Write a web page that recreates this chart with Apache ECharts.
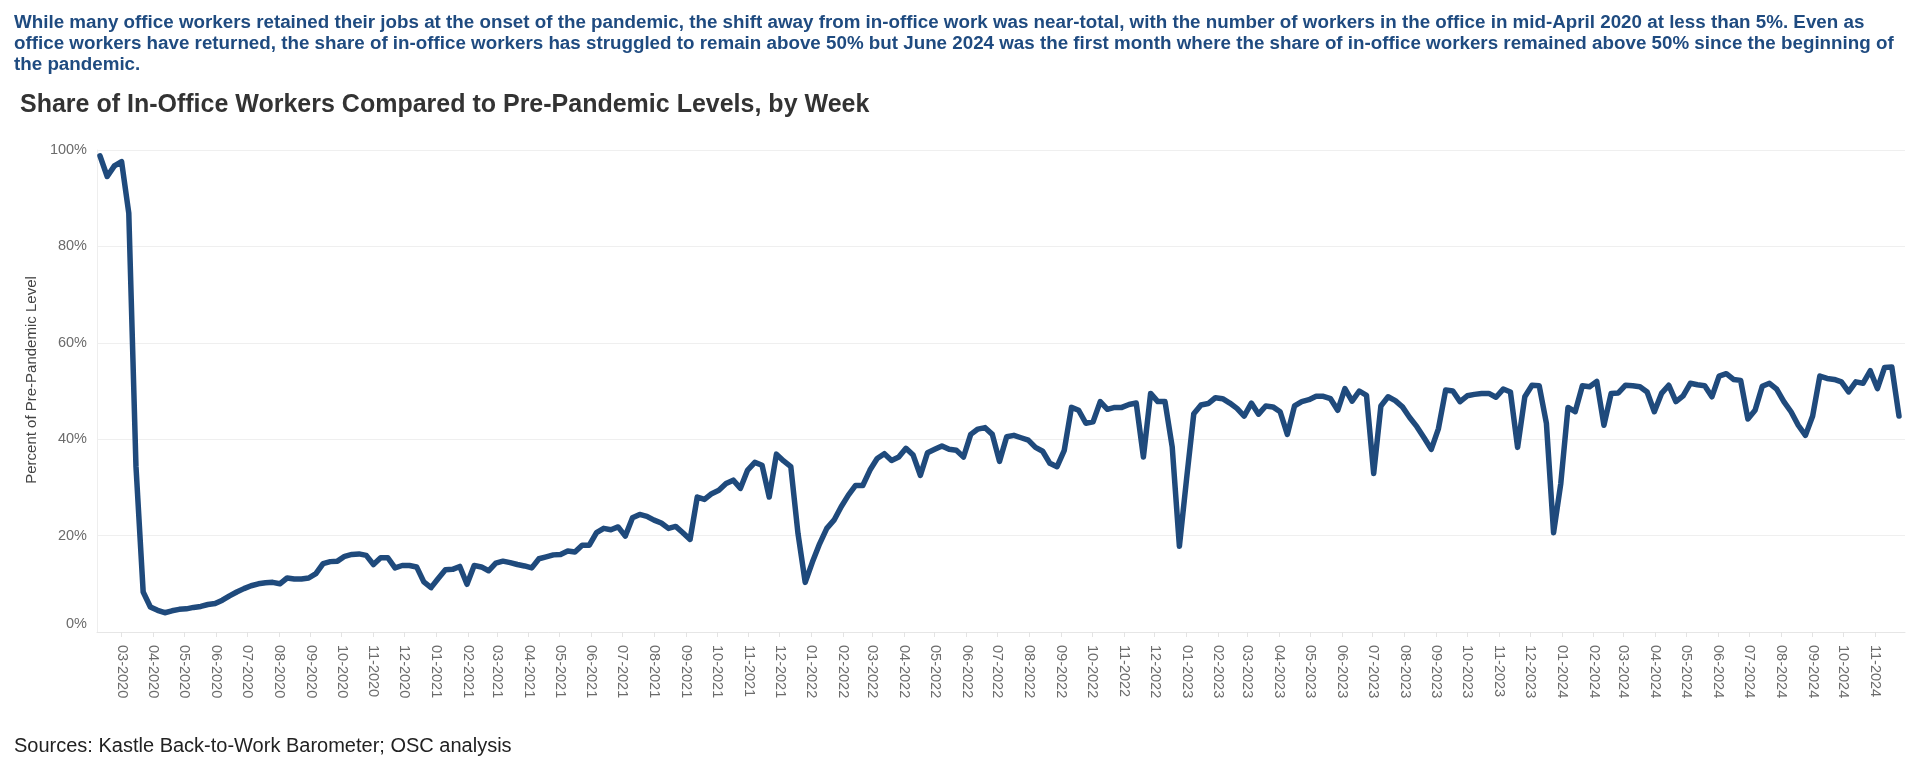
<!DOCTYPE html>
<html>
<head>
<meta charset="utf-8">
<script src="https://cdn.jsdelivr.net/npm/echarts@6/dist/echarts.min.js"></script>
<style>
  html, body { margin: 0; padding: 0; background: #ffffff; }
  #chart { width: 1920px; height: 769px; }
</style>
</head>
<body>
<div id="chart"></div>
<script>
// ---- Data ----
const subtitleLines = [
  'While many office workers retained their jobs at the onset of the pandemic, the shift away from in-office work was near-total, with the number of workers in the office in mid-April 2020 at less than 5%. Even as',
  'office workers have returned, the share of in-office workers has struggled to remain above 50% but June 2024 was the first month where the share of in-office workers remained above 50% since the beginning of',
  'the pandemic.'
];
const chartTitle = 'Share of In-Office Workers Compared to Pre-Pandemic Levels, by Week';
const sourceText = 'Sources: Kastle Back-to-Work Barometer; OSC analysis';
const yAxisTitle = 'Percent of Pre-Pandemic Level';

// weekly observations, first week starting 2020-02-09
const firstWeek = '2020-02-09';
const shareInOffice = [
  98.8, 94.5, 96.7, 97.6, 86.9, 34.3, 8.3, 5.2, 4.5, 4.0,
  4.4, 4.7, 4.8, 5.1, 5.3, 5.7, 5.9, 6.6, 7.5, 8.3,
  9.0, 9.6, 10.0, 10.2, 10.3, 10.0, 11.2, 11.0, 11.0, 11.2,
  12.1, 14.2, 14.6, 14.7, 15.7, 16.1, 16.2, 15.9, 14.0, 15.4,
  15.4, 13.3, 13.8, 13.8, 13.5, 10.4, 9.2, 11.1, 12.9, 13.0,
  13.6, 9.9, 13.8, 13.5, 12.7, 14.3, 14.7, 14.4, 14.0, 13.7,
  13.3, 15.2, 15.6, 16.0, 16.1, 16.8, 16.6, 18.0, 18.0, 20.6,
  21.5, 21.2, 21.8, 19.9, 23.7, 24.4, 24.0, 23.2, 22.6, 21.5,
  21.9, 20.6, 19.2, 28.0, 27.5, 28.7, 29.4, 30.8, 31.5, 29.8,
  33.6, 35.2, 34.6, 28.0, 36.9, 35.5, 34.3, 20.4, 10.3, 14.5,
  18.3, 21.5, 23.2, 26.0, 28.4, 30.4, 30.4, 33.6, 36.0, 37.0,
  35.6, 36.3, 38.1, 36.7, 32.5, 37.2, 37.9, 38.6, 37.9, 37.7,
  36.3, 41.0, 42.1, 42.4, 41.0, 35.4, 40.5, 40.8, 40.3, 39.8,
  38.3, 37.5, 35.0, 34.3, 37.7, 46.6, 46.0, 43.3, 43.6, 47.8,
  46.2, 46.6, 46.6, 47.2, 47.5, 36.3, 49.5, 47.8, 47.8, 38.4,
  17.8, 31.8, 45.3, 47.1, 47.4, 48.6, 48.4, 47.5, 46.4, 44.8,
  47.5, 45.2, 46.9, 46.7, 45.7, 41.0, 46.9, 47.8, 48.2, 48.9,
  48.9, 48.4, 46.0, 50.5, 47.9, 50.0, 49.1, 32.9, 46.9, 48.8,
  48.0, 46.7, 44.5, 42.6, 40.3, 37.9, 42.2, 50.2, 50.0, 47.8,
  49.0, 49.3, 49.5, 49.5, 48.7, 50.4, 49.8, 38.3, 48.8, 51.2,
  51.1, 43.3, 20.6, 30.8, 46.6, 45.7, 51.1, 50.9, 52.0, 42.9,
  49.5, 49.6, 51.2, 51.1, 50.9, 49.8, 45.7, 49.5, 51.2, 47.8,
  49.0, 51.6, 51.3, 51.1, 48.8, 53.1, 53.6, 52.4, 52.2, 44.2,
  46.0, 51.0, 51.6, 50.4, 47.8, 45.7, 42.9, 40.8, 44.8, 53.1,
  52.6, 52.4, 51.9, 49.8, 51.9, 51.6, 54.2, 50.5, 54.9, 55.0,
  44.8
];

const monthTickLabels = [
  '03-2020','04-2020','05-2020','06-2020','07-2020','08-2020','09-2020','10-2020','11-2020','12-2020',
  '01-2021','02-2021','03-2021','04-2021','05-2021','06-2021','07-2021','08-2021','09-2021','10-2021','11-2021','12-2021',
  '01-2022','02-2022','03-2022','04-2022','05-2022','06-2022','07-2022','08-2022','09-2022','10-2022','11-2022','12-2022',
  '01-2023','02-2023','03-2023','04-2023','05-2023','06-2023','07-2023','08-2023','09-2023','10-2023','11-2023','12-2023',
  '01-2024','02-2024','03-2024','04-2024','05-2024','06-2024','07-2024','08-2024','09-2024','10-2024','11-2024'
];

// ---- Build ----
const DAY = 86400000;
const startMs = Date.parse(firstWeek + 'T00:00:00Z');
const weekDates = shareInOffice.map((_, i) => startMs + i * 7 * DAY);
const seriesData = shareInOffice.map((v, i) => [weekDates[i], v]);

const tickTimes = monthTickLabels.map(s => {
  const parts = s.split('-');
  return Date.UTC(+parts[1], +parts[0] - 1, 1);
});
function monthLabel(val) {
  let best = -1, bestD = Infinity;
  for (let i = 0; i < tickTimes.length; i++) {
    const d = Math.abs(tickTimes[i] - val);
    if (d < bestD) { bestD = d; best = i; }
  }
  return bestD < DAY ? monthTickLabels[best] : '';
}

const FONT = '"Liberation Sans", Arial, sans-serif';

const chart = echarts.init(document.getElementById('chart'), null, { renderer: 'canvas' });

const option = {
  animation: false,
  backgroundColor: '#ffffff',
  textStyle: { fontFamily: FONT },
  title: [
    {
      text: subtitleLines.join('\n'),
      left: 14, top: 12, padding: 0,
      textStyle: { fontFamily: FONT, fontWeight: 'bold', fontSize: 18.8, lineHeight: 21.2, color: '#1f4b80' }
    },
    {
      text: chartTitle,
      left: 20, top: 91, padding: 0,
      textStyle: { fontFamily: FONT, fontWeight: 'bold', fontSize: 25, lineHeight: 28, color: '#333333' }
    },
    {
      text: sourceText,
      left: 14, top: 734, padding: 0,
      textStyle: { fontFamily: FONT, fontWeight: 'normal', fontSize: 20, lineHeight: 24, color: '#222222' }
    }
  ],
  grid: { left: 97, right: 15, top: 150, bottom: 137, containLabel: false },
  xAxis: {
    type: 'value',
    min: startMs - 2.92 * DAY,
    max: weekDates[weekDates.length - 1] + 5.84 * DAY,
    axisLine: { show: true, onZero: false, lineStyle: { color: '#e6e6e6', width: 1 } },
    axisTick: { show: true, customValues: tickTimes, length: 5, lineStyle: { color: '#e3e3e3' } },
    axisLabel: {
      customValues: tickTimes,
      rotate: -90,
      margin: 13,
      color: '#6b6b6b',
      fontSize: 14.5,
      fontFamily: FONT,
      showMinLabel: true,
      showMaxLabel: true,
      hideOverlap: false,
      formatter: (val) => monthLabel(val)
    },
    splitLine: { show: false }
  },
  yAxis: {
    type: 'value',
    min: 0, max: 100, interval: 20,
    axisLine: { show: true, lineStyle: { color: '#eeeeee', width: 1 } },
    axisTick: { show: false },
    axisLabel: {
      margin: 10,
      color: '#6b6b6b',
      fontSize: 14.5,
      fontFamily: FONT,
      formatter: (v) => v === 0 ? '{z|0%}' : v + '%',
      rich: { z: { fontSize: 14.5, color: '#6b6b6b', fontFamily: FONT, padding: [0, 0, 16, 0] } }
    },
    splitLine: { show: true, lineStyle: { color: '#efefef', width: 1 } }
  },
  graphic: [
    {
      type: 'text',
      x: 32, y: 380,
      rotation: Math.PI / 2,
      style: {
        text: yAxisTitle,
        fontFamily: FONT,
        fontSize: 15,
        fill: '#444444',
        align: 'center',
        verticalAlign: 'middle'
      }
    }
  ],
  series: [
    {
      type: 'line',
      data: seriesData,
      showSymbol: false,
      symbol: 'none',
      smooth: false,
      lineStyle: { width: 5.5, color: '#1f4a7c', join: 'round', cap: 'round' },
      itemStyle: { color: '#1f4a7c' }
    }
  ]
};

chart.setOption(option);
</script>
</body>
</html>
